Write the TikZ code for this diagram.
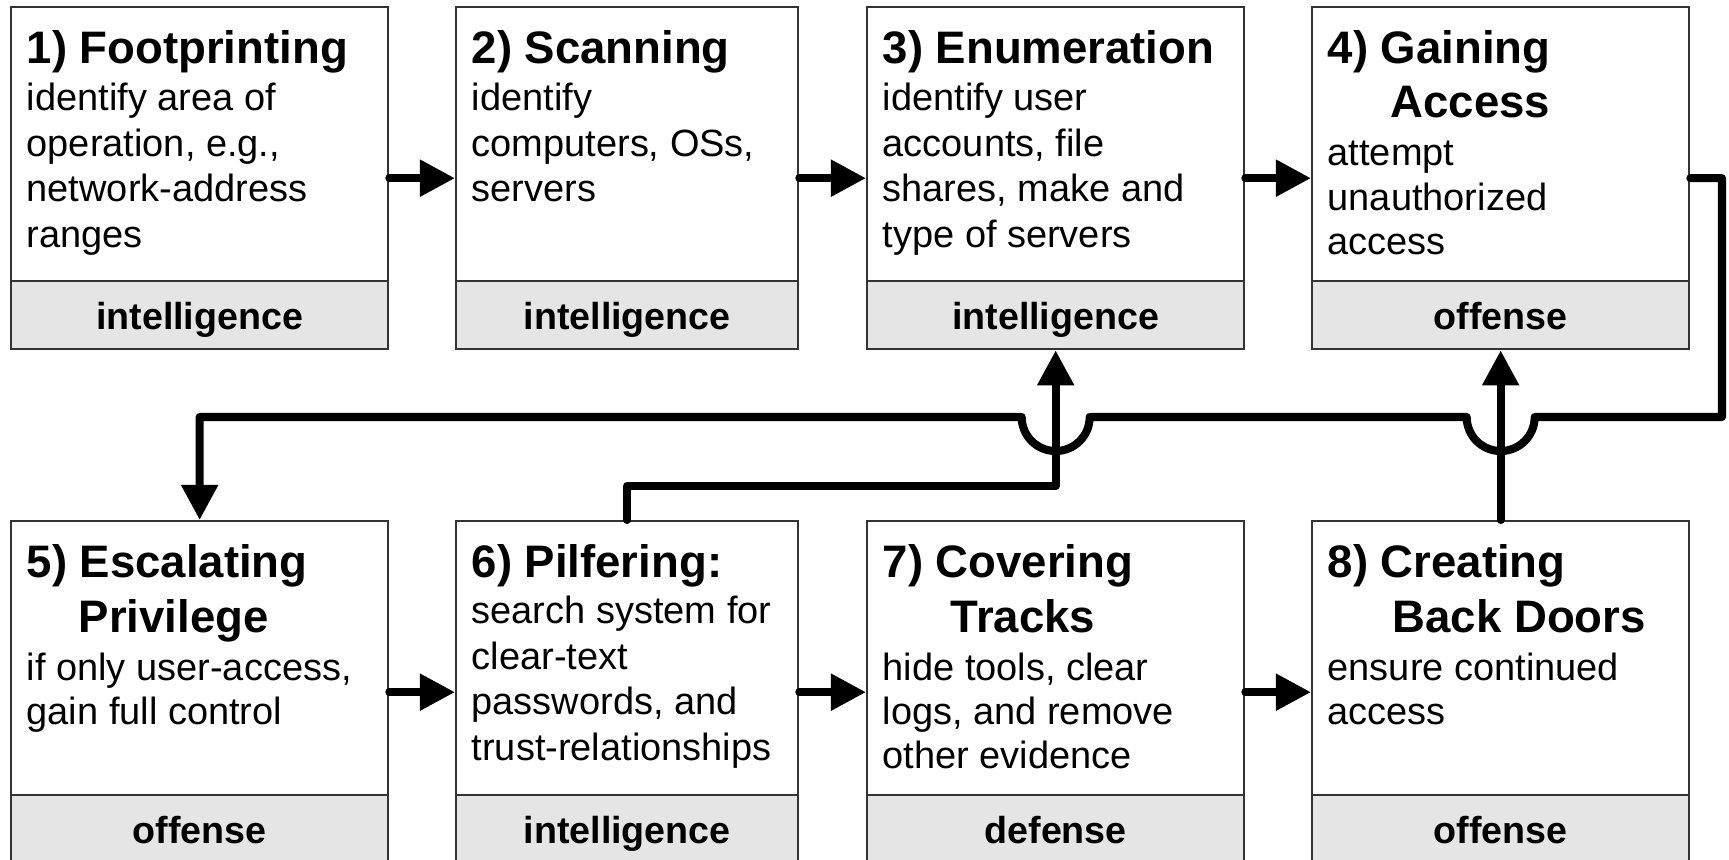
\documentclass[tikz,border=0pt]{standalone}
\usepackage{fontspec}
\setmainfont{Liberation Sans}
\usetikzlibrary{arrows.meta}
\begin{document}
\begin{tikzpicture}[x=0.01cm, y=-0.01cm,
  box/.style={draw=black!80, line width=0.6pt, fill=white, anchor=north west,
    minimum height=3.42cm, inner sep=0pt},
  band/.style={draw=black!80, line width=0.6pt, fill=black!10, anchor=south west,
    minimum height=0.68cm, inner sep=0pt, text height=0.28cm, text depth=0cm,
    font=\fontsize{10.7}{12}\selectfont\bfseries},
  ttl/.style={anchor=base west, inner sep=0pt, font=\fontsize{12.95}{15}\selectfont\bfseries},
  txt/.style={anchor=base west, inner sep=0pt, font=\fontsize{10.8}{13}\selectfont},
  conn/.style={line width=2.3pt, line cap=round, line join=round,
    -{Triangle[length=10pt,width=10pt]}},
  wide/.style={minimum width=3.77cm},
  narrow/.style={minimum width=3.42cm}
]
\useasboundingbox (0,0) rectangle (1729,859);

% ---- top row boxes
\node[box, wide]   (b1) at (10,6) {};
\node[box, narrow] (b2) at (455,6) {};
\node[box, wide]   (b3) at (866,6) {};
\node[box, wide]   (b4) at (1311,6) {};
% ---- bottom row boxes
\node[box, wide]   (b5) at (10,520) {};
\node[box, narrow] (b6) at (455,520) {};
\node[box, wide]   (b7) at (866,520) {};
\node[box, wide]   (b8) at (1311,520) {};

% ---- category bands
\node[band, wide]   (l1) at (b1.south west) {intelligence};
\node[band, narrow] (l2) at (b2.south west) {intelligence};
\node[band, wide]   (l3) at (b3.south west) {intelligence};
\node[band, wide]   (l4) at (b4.south west) {offense};
\node[band, wide]   (l5) at (b5.south west) {offense};
\node[band, narrow] (l6) at (b6.south west) {intelligence};
\node[band, wide]   (l7) at (b7.south west) {defense};
\node[band, wide]   (l8) at (b8.south west) {offense};

% ---- box 1
\node[ttl] (t1)  at (26,63)  {1) Footprinting};
\node[txt] (t1a) at (26,110) {identify area of};
\node[txt] (t1b) at (26,156) {operation, e.g.,};
\node[txt] (t1c) at (26,201) {network-address};
\node[txt] (t1d) at (26,247) {ranges};
% ---- box 2
\node[ttl] (t2)  at (471,63)  {2) Scanning};
\node[txt] (t2a) at (471,110) {identify};
\node[txt] (t2b) at (471,156) {computers, OSs,};
\node[txt] (t2c) at (471,201) {servers};
% ---- box 3
\node[ttl] (t3)  at (882,63)  {3) Enumeration};
\node[txt] (t3a) at (882,110) {identify user};
\node[txt] (t3b) at (882,156) {accounts, file};
\node[txt] (t3c) at (882,201) {shares, make and};
\node[txt] (t3d) at (882,247) {type of servers};
% ---- box 4
\node[ttl] (t4)  at (1327,63)  {4) Gaining};
\node[ttl] (t4x) at (1390,117) {Access};
\node[txt] (t4a) at (1327,165) {attempt};
\node[txt] (t4b) at (1327,210) {unauthorized};
\node[txt] (t4c) at (1327,254) {access};
% ---- box 5
\node[ttl] (t5)  at (26,577)  {5) Escalating};
\node[ttl] (t5x) at (78,632)  {Privilege};
\node[txt] (t5a) at (26,680)  {if only user-access,};
\node[txt] (t5b) at (26,724)  {gain full control};
% ---- box 6
\node[ttl] (t6)  at (471,577) {6) Pilfering:};
\node[txt] (t6a) at (471,623) {search system for};
\node[txt] (t6b) at (471,669) {clear-text};
\node[txt] (t6c) at (471,714) {passwords, and};
\node[txt] (t6d) at (471,760) {trust-relationships};
% ---- box 7
\node[ttl] (t7)  at (882,577) {7) Covering};
\node[ttl] (t7x) at (950,632) {Tracks};
\node[txt] (t7a) at (882,680) {hide tools, clear};
\node[txt] (t7b) at (882,724) {logs, and remove};
\node[txt] (t7c) at (882,768) {other evidence};
% ---- box 8
\node[ttl] (t8)  at (1327,577) {8) Creating};
\node[ttl] (t8x) at (1392,632) {Back Doors};
\node[txt] (t8a) at (1327,680) {ensure continued};
\node[txt] (t8b) at (1327,724) {access};

% ---- straight connectors
\draw[conn] (b1.east) -- (b2.west);
\draw[conn] (b2.east) -- (b3.west);
\draw[conn] (b3.east) -- (b4.west);
\draw[conn] (b5.east) -- (b6.west);
\draw[conn] (b6.east) -- (b7.west);
\draw[conn] (b7.east) -- (b8.west);
\draw[conn] (b8.north) -- (l4.south);

% ---- 6 -> 3
\coordinate (p6) at (b6.north |- 0,486);
\coordinate (p3) at (l3.south |- 0,486);
\draw[conn] (b6.north) -- (p6) -- (p3) -- (l3.south);

% ---- 4 -> 5 with jumps
\coordinate (r1) at (b4.east -| 1722,0);
\coordinate (r2) at (1722,417);
\coordinate (j1) at ([xshift=0.34cm]b8.north |- 0,417);
\coordinate (j2) at ([xshift=0.34cm]l3.south |- 0,417);
\coordinate (q5) at (b5.north |- 0,417);
\draw[conn] (b4.east) -- (r1) -- (r2) -- (j1)
  arc[start angle=0, end angle=180, radius=34] -- (j2)
  arc[start angle=0, end angle=180, radius=34] -- (q5) -- (b5.north);
\end{tikzpicture}
\end{document}
